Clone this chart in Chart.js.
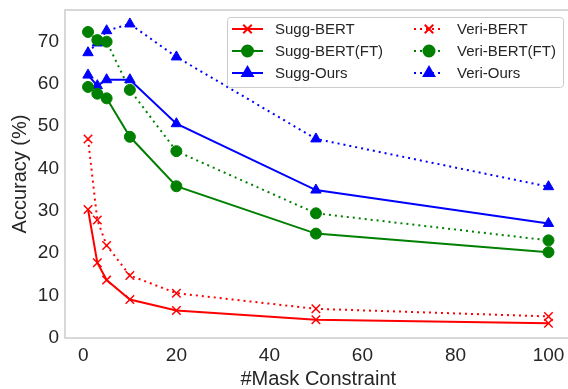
<!DOCTYPE html>
<html>
<head>
<meta charset="utf-8">
<script src="https://cdn.jsdelivr.net/npm/chart.js@4.4.1/dist/chart.umd.min.js"></script>
<style>
  html, body { margin: 0; padding: 0; background: #fff; overflow: hidden; }
  #wrap { width: 579px; height: 389px; }
</style>
</head>
<body>
<div id="wrap"><canvas id="accChart" width="579" height="389"></canvas></div>
<script>
// #mask constraints on the x axis
const maskCounts = [1, 3, 5, 10, 20, 50, 100];

// accuracy (%) per method
const suggBert   = [30.3, 17.7, 13.6, 9.0, 6.4, 4.2, 3.4];
const veriBert   = [47.0, 27.8, 21.8, 14.7, 10.5, 6.8, 5.0];
const suggBertFT = [59.3, 57.7, 56.6, 47.5, 35.8, 24.6, 20.2];
const veriBertFT = [72.3, 70.4, 70.0, 58.6, 44.1, 29.4, 23.0];
const suggOurs   = [62.1, 59.6, 61.0, 61.0, 50.6, 34.9, 27.0];
const veriOurs   = [67.4, 69.7, 72.6, 74.2, 66.4, 47.0, 35.7];

const xTicks = [0, 20, 40, 60, 80, 100];
const yTicks = [0, 10, 20, 30, 40, 50, 60, 70];

const RED = "#ff0000", GREEN = "#008000", BLUE = "#0000ff";
const TEXT = "#262626";
const FONT = "'Liberation Sans', Arial, sans-serif";

function series(label, values, color, marker, dotted) {
    return {
        label: label,
        data: maskCounts.map((x, i) => ({ x: x, y: values[i] })),
        borderColor: color,
        backgroundColor: color,
        borderWidth: 2,
        borderDash: dotted ? [2, 4] : [],
        showLine: true,
        pointStyle: marker,
        pointRadius: marker === "circle" ? 5.5 : 6,
        pointBorderWidth: marker === "crossRot" ? 1.5 : 1,
        pointBackgroundColor: color,
        pointBorderColor: color,
        tension: 0
    };
}

const datasets = [
    series("Sugg-BERT", suggBert, RED, "crossRot", false),
    series("Sugg-BERT(FT)", suggBertFT, GREEN, "circle", false),
    series("Sugg-Ours", suggOurs, BLUE, "triangle", false),
    series("Veri-BERT", veriBert, RED, "crossRot", true),
    series("Veri-BERT(FT)", veriBertFT, GREEN, "circle", true),
    series("Veri-Ours", veriOurs, BLUE, "triangle", true)
];

// frame around the plot area (seaborn whitegrid look)
const framePlugin = {
    id: "frame",
    beforeDatasetsDraw(chart) {
        const a = chart.chartArea, ctx = chart.ctx;
        ctx.save();
        ctx.strokeStyle = "#cccccc";
        ctx.lineWidth = 1.5;
        ctx.strokeRect(a.left, a.top, a.right - a.left, a.bottom - a.top);
        ctx.restore();
    }
};

// two-column matplotlib style legend
const legendPlugin = {
    id: "mplLegend",
    afterDraw(chart) {
        const ctx = chart.ctx;
        const box = { x: 227, y: 17, w: 336, h: 70 };
        ctx.save();
        ctx.fillStyle = "rgba(255,255,255,0.85)";
        ctx.strokeStyle = "#cccccc";
        ctx.lineWidth = 1;
        ctx.beginPath();
        ctx.roundRect(box.x + 0.5, box.y + 0.5, box.w, box.h, 3);
        ctx.fill();
        ctx.stroke();

        const rows = [29, 51, 73];
        const cols = [{ x0: 232, x1: 263, tx: 275 }, { x0: 414, x1: 444, tx: 457 }];
        chart.data.datasets.forEach((ds, i) => {
            const c = cols[Math.floor(i / 3)], y = rows[i % 3];
            ctx.strokeStyle = ds.borderColor;
            ctx.lineWidth = 2;
            ctx.setLineDash(ds.borderDash);
            ctx.beginPath();
            ctx.moveTo(c.x0, y);
            ctx.lineTo(c.x1, y);
            ctx.stroke();
            ctx.setLineDash([]);
            ctx.fillStyle = ds.borderColor;
            Chart.helpers.drawPoint(ctx, {
                pointStyle: ds.pointStyle,
                radius: ds.pointRadius,
                rotation: 0,
                borderWidth: ds.pointBorderWidth
            }, (c.x0 + c.x1) / 2, y);
            ctx.fillStyle = TEXT;
            ctx.font = "15px " + FONT;
            ctx.textBaseline = "middle";
            ctx.textAlign = "left";
            ctx.fillText(ds.label, c.tx, y + 1);
        });
        ctx.restore();
    }
};

new Chart(document.getElementById("accChart").getContext("2d"), {
    type: "scatter",
    data: { datasets: datasets },
    options: {
        responsive: false,
        animation: false,
        layout: { padding: { top: 10, right: 1, left: 0, bottom: 0 } },
        plugins: {
            legend: { display: false },
            tooltip: { enabled: false }
        },
        scales: {
            x: {
                type: "linear",
                min: -3.95,
                max: 104.95,
                afterFit: s => { s.height = 51; s.paddingLeft = 0; s.paddingRight = 0; },
                afterBuildTicks: s => { s.ticks = xTicks.map(v => ({ value: v })); },
                grid: { display: false, drawTicks: false },
                border: { display: false },
                ticks: { color: TEXT, font: { size: 19, family: FONT }, padding: 6 },
                title: {
                    display: true,
                    text: "#Mask Constraint",
                    color: TEXT,
                    font: { size: 20, family: FONT, lineHeight: 1 },
                    padding: { top: 0, bottom: 0 }
                }
            },
            y: {
                min: -0.1,
                max: 77.5,
                afterFit: s => { s.width = 65; s.paddingTop = 0; s.paddingBottom = 0; },
                afterBuildTicks: s => { s.ticks = yTicks.map(v => ({ value: v })); },
                grid: { display: false, drawTicks: false },
                border: { display: false },
                ticks: { color: TEXT, font: { size: 19, family: FONT }, padding: 6 },
                title: {
                    display: true,
                    text: "Accuracy (%)",
                    color: TEXT,
                    font: { size: 20, family: FONT, lineHeight: 1 },
                    padding: { top: 10, bottom: 0 }
                }
            }
        }
    },
    plugins: [framePlugin, legendPlugin]
});
</script>
</body>
</html>
